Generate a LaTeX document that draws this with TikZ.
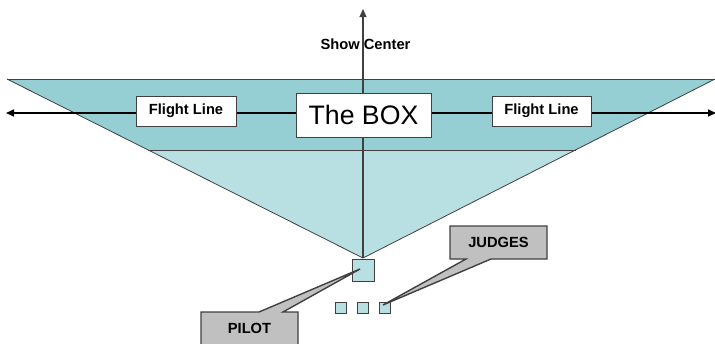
\documentclass[tikz,border=0pt]{standalone}
\usepackage{fontspec}
\setmainfont{Liberation Sans}
\usetikzlibrary{arrows.meta}
\definecolor{bandc}{HTML}{96CFD3}
\definecolor{lightc}{HTML}{B8E0E3}
\definecolor{edgec}{HTML}{404040}
\definecolor{callc}{HTML}{C0C0C0}
\begin{document}
\begin{tikzpicture}[x=1pt,y=-1pt,
  >={Triangle[length=8pt,width=7pt]},
  lbl/.style={font=\fontsize{14.7}{16}\selectfont\bfseries, inner sep=0pt},
  flbox/.style={draw=edgec, fill=white, line width=0.9pt, minimum width=100pt, minimum height=30pt, inner sep=0pt, font=\fontsize{14.7}{16}\selectfont\bfseries},
  bigbox/.style={draw=edgec, fill=white, line width=0.9pt, minimum width=135pt, minimum height=44pt, inner sep=0pt, font=\fontsize{26.7}{30}\selectfont},
  sq/.style={draw=edgec, fill=lightc, line width=0.8pt, inner sep=0pt},
  callout/.style={draw=edgec, fill=callc, line width=1.4pt, line join=miter}
]
\useasboundingbox (0,0) rectangle (715,343);
% geometry
\coordinate (L) at (7,79);
\coordinate (R) at (715,79);
\coordinate (A) at (363,258);
\coordinate (BL) at (148,150);
\coordinate (BR) at (576,150);
\coordinate (FLL) at (6,113);
\coordinate (FLR) at (716,113);
\coordinate (SC) at (363,9);
% zone
\fill[lightc] (L) -- (R) -- (A) -- cycle;
\fill[bandc] (L) -- (R) -- (BR) -- (BL) -- cycle;
\draw[edgec, line width=0.8pt] (BL) -- (BR);
\draw[edgec, line width=0.8pt] (L) -- (A) -- (R);
\draw[edgec, line width=1pt] (L) -- (R);
% show center line
\node[lbl] (show) at (365.5,44) {Show Center};
\draw[edgec, line width=1.1pt, ->] (A) -- (SC);
% flight line
\draw[black, line width=1.6pt, <->] (FLL) -- (FLR);
\node[flbox] (fl1) at (186,111) {Flight Line};
\node[flbox, minimum width=99pt] (fl2) at (541.5,111) {Flight Line};
\node[bigbox] (box) at (363.5,115) {The BOX};
% pilot and judges
\node[sq, minimum width=22pt, minimum height=22pt] (pilotsq) at (363,270) {};
\node[sq, minimum width=11pt, minimum height=11pt] (j1) at (340.5,307.5) {};
\node[sq, minimum width=11pt, minimum height=11pt] (j2) at (362.5,307.5) {};
\node[sq, minimum width=11pt, minimum height=11pt] (j3) at (384.5,307.5) {};
% callouts
\coordinate (ptip) at (360,269);
\coordinate (jtip) at (383,305);
\draw[callout] (201,346) -- (201,312) -- (259,312) -- (ptip) -- (283,312) -- (298,312) -- (298,346);
\node[lbl] (pilot) at (249.5,328) {PILOT};
\draw[callout] (450,226) -- (547,226) -- (547,259) -- (491,259) -- (jtip) -- (466,259) -- (450,259) -- cycle;
\node[lbl] (judges) at (498.5,242.5) {JUDGES};
\end{tikzpicture}
\end{document}
